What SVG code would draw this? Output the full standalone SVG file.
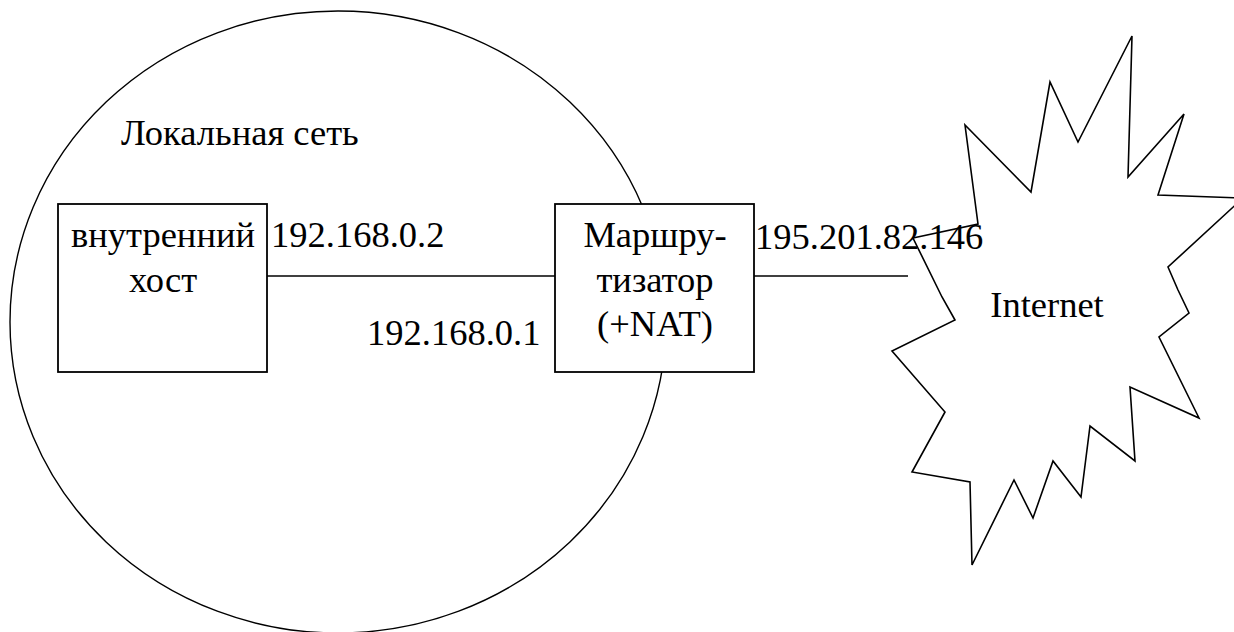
<svg xmlns="http://www.w3.org/2000/svg" width="1234" height="632" viewBox="0 0 1234 632">
<style>
text{font-family:"Liberation Serif","DejaVu Serif",serif;font-size:36.5px;fill:#000}
.c{text-anchor:middle}
.box{fill:#fff;stroke:#000;stroke-width:1.8}
.ln{stroke:#000;stroke-width:1.6;fill:none}
</style>
<rect width="1234" height="632" fill="#fff"/>
<g id="lan">
<ellipse cx="338" cy="322" rx="328" ry="311" fill="#fff" stroke="#000" stroke-width="1.4"/>
<text x="121" y="145">Локальная сеть</text>
</g>
<g id="connectors">
<line class="ln" x1="267" y1="276" x2="555" y2="276"/>
<line class="ln" x1="747" y1="276" x2="908" y2="276"/>
</g>
<g id="internet">
<polygon class="ln" fill="#fff" points="913,238 978,224 965,125 1031,192 1050,82 1078,142 1132,36 1128,177 1184,114 1158,195 1243,198 1168,267 1178,290 1189,313 1159,337 1199,418 1130,387 1135,461 1090,426 1081,497 1053,461 1033,518 1014,480 972,565 970,482 912,472 945,412 892,351 955,320 942,297"/>
<text class="c" x="1047" y="317">Internet</text>
</g>
<g id="host">
<rect class="box" x="58" y="204" width="209" height="168"/>
<text class="c" x="163" y="247">внутренний</text>
<text class="c" x="163" y="292">хост</text>
</g>
<g id="router">
<rect class="box" x="555" y="204" width="199" height="168"/>
<text class="c" x="655" y="247">Маршру-</text>
<text class="c" x="655" y="292">тизатор</text>
<text class="c" x="655" y="336">(+NAT)</text>
</g>
<g id="labels">
<text x="271" y="247">192.168.0.2</text>
<text x="367" y="345">192.168.0.1</text>
<text x="755" y="249">195.201.82.146</text>
</g>
</svg>
